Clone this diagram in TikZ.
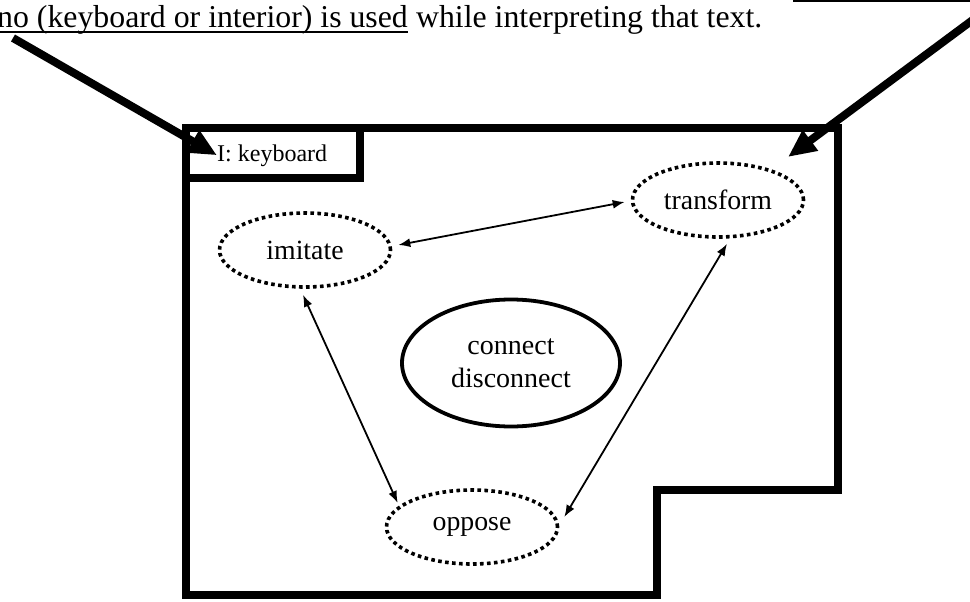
\documentclass[tikz,border=0pt]{standalone}
\usepackage{fontspec}
\setmainfont{Liberation Serif}
\usetikzlibrary{shapes.geometric,arrows.meta}
\begin{document}
\begin{tikzpicture}[x=1pt,y=-1pt,
  wall/.style={line width=8pt,line join=miter},
  dotell/.style={ellipse,draw,line width=3.6pt,dash pattern=on 3.6pt off 3.4pt,
    minimum width=171pt,minimum height=74pt,inner sep=0pt,
    font=\fontsize{27.8}{32}\selectfont},
  solidell/.style={ellipse,draw,line width=3.8pt,minimum width=218pt,minimum height=127pt,
    inner sep=0pt,align=center,font=\fontsize{28}{33}\selectfont},
  thin/.style={line width=1.8pt,{Latex[length=12pt,width=9pt]}-{Latex[length=12pt,width=9pt]}},
  thick/.style={line width=8pt,-{Triangle[length=28pt,width=24pt]}},
  toptext/.style={anchor=base west,inner sep=0pt,font=\fontsize{31.8}{36}\selectfont}
]
\useasboundingbox (0,0) rectangle (970,602);
\fill[white] (0,0) rectangle (970,602);

% top text (second line of a clipped paragraph)
\node[toptext] (l2a) at (-3,28) {no (keyboard or interior) is used};
\node[toptext] (l2b) at ([xshift=7.9pt]l2a.base east) {while interpreting that text.};
\draw[line width=2pt] ([yshift=-4pt]l2a.base west) -- ([yshift=-4pt]l2a.base east);
\coordinate (u1) at (793,1);
\coordinate (u2) at (972,1);
\draw[line width=2.4pt] (u1) -- (u2);

% outline
\draw[wall] (186,128) -- (838,128) -- (838,490) -- (657,490) -- (657,595) -- (186,595) -- cycle;
\draw[wall] (186,178) -- (360,178) -- (360,128);

% nodes
\node[anchor=base west,inner sep=0pt,font=\fontsize{24}{28}\selectfont] (kb) at (217,161) {I: keyboard};
\node[dotell] (transform) at (718,200) {transform};
\node[dotell] (imitate) at (305,250) {imitate};
\node[dotell] (oppose) at (472,527) {oppose};
\node[solidell] (connect) at (511,363) {connect\\disconnect};

% thin double arrows
\draw[thin] ([shift={(6,-5)}]imitate.east) -- ([shift={(-6,2)}]transform.west);
\draw[thin] ([shift={(-2,6)}]imitate.south) -- ([shift={(13,-24)}]oppose.west);
\draw[thin] ([shift={(9,5)}]transform.south) -- ([shift={(5,-10)}]oppose.east);

% thick pointer arrows
\coordinate (ls) at (13,38);
\coordinate (rs) at (974,19);
\draw[thick] (ls) -- (kb.west);
\coordinate (rt) at (788,157);
\draw[thick] (rs) -- (rt);
\end{tikzpicture}
\end{document}
